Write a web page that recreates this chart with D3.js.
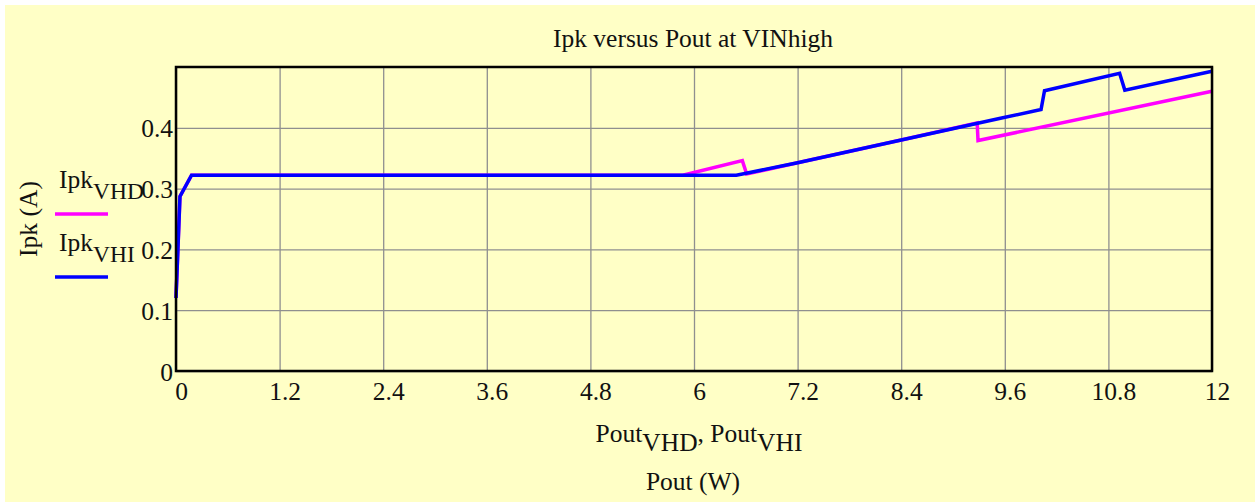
<!DOCTYPE html>
<html>
<head>
<meta charset="utf-8">
<script src="https://cdn.jsdelivr.net/npm/d3@7"></script>
<style>
body { margin: 0; background: #fff; }
svg text { font-family: "Liberation Serif", "Times New Roman", serif; fill: #111; }
</style>
</head>
<body>
<svg id="chart" width="1255" height="502"></svg>
<script>
// Ipk vs Pout
var poutVHD = [0, 0.046, 0.18, 5.87, 6.56, 6.61, 7.2, 8.4, 9.28, 9.29, 12];
var ipkVHD  = [0.12, 0.287, 0.322, 0.322, 0.346, 0.324, 0.3425, 0.380, 0.408, 0.379, 0.460];

var poutVHI = [0, 0.046, 0.18, 6.49, 7.2, 8.4, 9.55, 10.02, 10.06, 10.93, 10.99, 12];
var ipkVHI  = [0.12, 0.287, 0.322, 0.322, 0.3425, 0.380, 0.4156, 0.430, 0.461, 0.4896, 0.462, 0.493];

var xTicks = [0, 1.2, 2.4, 3.6, 4.8, 6, 7.2, 8.4, 9.6, 10.8, 12];
var yTicks = [0, 0.1, 0.2, 0.3, 0.4];

var drawChart = function() {
	var svg = d3.select("#chart");
	var W = +svg.attr("width"), H = +svg.attr("height");
	var fs = 25.5, subFs = 23.5;

	svg.append("rect")
		.attr("x", 5).attr("y", 5)
		.attr("width", W - 5).attr("height", H - 5)
		.attr("fill", "#ffffc6");

	var pLeft = 176, pRight = 1212, pTop = 67, pBottom = 371;

	var xScale = d3.scaleLinear().domain([0, 12]).range([pLeft, pRight]);
	var yScale = d3.scaleLinear().domain([0, 0.5]).range([pBottom, pTop]);

	// grid
	var xGrid = d3.axisBottom(xScale).tickValues(xTicks).tickSize(-(pBottom - pTop)).tickFormat("");
	var yGrid = d3.axisLeft(yScale).tickValues(yTicks).tickSize(-(pRight - pLeft)).tickFormat("");

	svg.append("g").attr("transform", "translate(0," + pBottom + ")").call(xGrid)
		.call(g => g.select(".domain").remove())
		.selectAll("line").attr("stroke", "#8f8f8f").attr("stroke-width", 1.3);
	svg.append("g").attr("transform", "translate(" + pLeft + ",0)").call(yGrid)
		.call(g => g.select(".domain").remove())
		.selectAll("line").attr("stroke", "#8f8f8f").attr("stroke-width", 1.3);

	// tick labels
	var fmt = d => String(+d.toFixed(1));
	var xAxis = d3.axisBottom(xScale).tickValues(xTicks).tickSize(0).tickPadding(0).tickFormat(fmt);
	var gx = svg.append("g").attr("transform", "translate(5," + (pBottom + 29) + ")").call(xAxis);
	gx.select(".domain").remove();
	gx.selectAll("text").attr("font-size", fs).attr("dy", 0)
		.attr("font-family", "Liberation Serif").attr("fill", "#111");

	var yAxis = d3.axisLeft(yScale).tickValues(yTicks).tickSize(0).tickPadding(0).tickFormat(fmt);
	var gy = svg.append("g").attr("transform", "translate(" + (pLeft - 3) + ",9)").call(yAxis);
	gy.select(".domain").remove();
	gy.selectAll("text").attr("font-size", fs).attr("dy", 0)
		.attr("font-family", "Liberation Serif").attr("fill", "#111");

	// series
	var line = d3.line().x(d => xScale(d[0])).y(d => yScale(d[1]));
	var vhd = poutVHD.map((p, i) => [p, ipkVHD[i]]);
	var vhi = poutVHI.map((p, i) => [p, ipkVHI[i]]);

	svg.append("path").datum(vhd).attr("d", line)
		.attr("fill", "none").attr("stroke", "#ff00ff").attr("stroke-width", 3.5);
	svg.append("path").datum(vhi).attr("d", line)
		.attr("fill", "none").attr("stroke", "#0000ff").attr("stroke-width", 3.5);

	// frame
	svg.append("rect")
		.attr("x", pLeft).attr("y", pTop)
		.attr("width", pRight - pLeft).attr("height", pBottom - pTop)
		.attr("fill", "none").attr("stroke", "#000").attr("stroke-width", 2.5);

	// title
	svg.append("text")
		.attr("x", 693).attr("y", 47)
		.attr("text-anchor", "middle").attr("font-size", fs)
		.text("Ipk versus Pout at VINhigh");

	// y label
	svg.append("text")
		.attr("transform", "translate(37,219) rotate(-90)")
		.attr("text-anchor", "middle").attr("font-size", fs)
		.text("Ipk (A)");

	// legend
	var legend = [
		{ sub: "VHD", color: "#ff00ff", y: 188 },
		{ sub: "VHI", color: "#0000ff", y: 251 }
	];
	legend.forEach(function(l) {
		var t = svg.append("text").attr("x", 59).attr("y", l.y).attr("font-size", fs);
		t.append("tspan").text("Ipk");
		t.append("tspan").attr("dy", 11).attr("font-size", subFs).text(l.sub);
		svg.append("line")
			.attr("x1", 55).attr("x2", 108)
			.attr("y1", l.y + 26).attr("y2", l.y + 26)
			.attr("stroke", l.color).attr("stroke-width", 3.5);
	});

	// x labels
	var xl = svg.append("text").attr("x", 699).attr("y", 442)
		.attr("text-anchor", "middle").attr("font-size", fs);
	xl.append("tspan").text("Pout");
	xl.append("tspan").attr("dy", 9).text("VHD");
	xl.append("tspan").attr("dy", -9).text(", ");
	xl.append("tspan").text("Pout");
	xl.append("tspan").attr("dy", 9).text("VHI");

	svg.append("text")
		.attr("x", 693).attr("y", 490)
		.attr("text-anchor", "middle").attr("font-size", fs)
		.text("Pout (W)");
};

drawChart();
</script>
</body>
</html>
